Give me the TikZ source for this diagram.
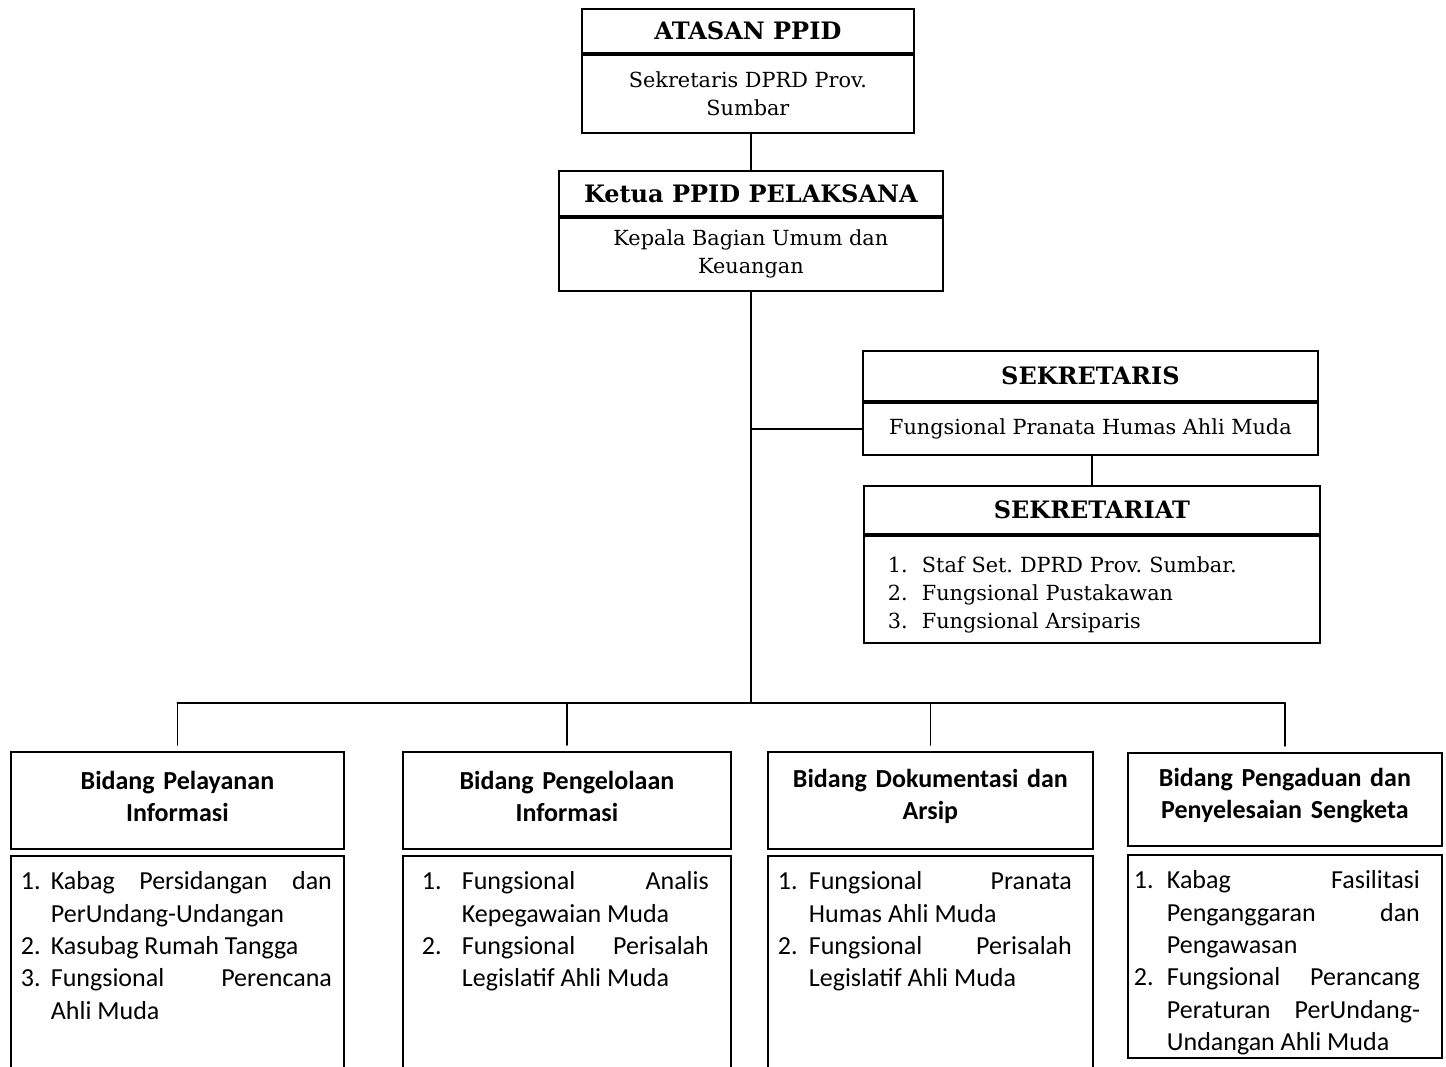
\documentclass[tikz,border=0pt]{standalone}
\usepackage{fontspec}
\setmainfont{DejaVu Serif}
\newfontfamily\calibri{Carlito}
\usetikzlibrary{positioning}
\frenchspacing

% numbered item with hanging indent
\newcommand{\butir}[3]{\par\hangindent=#1\hangafter=1\noindent\makebox[#1][l]{#2}#3\par}
% top aligned text inside a bidang box: height, width, right skip, items
\newcommand{\isibidang}[4]{\parbox[t][#1][t]{#2}{\hbadness=10000\rightskip=#3\vspace{8pt}#4}}

\begin{document}
\begin{tikzpicture}[x=0.5pt, y=-0.5pt, line width=0.9pt, line cap=round,
    judul/.style={draw, inner sep=0pt, font=\fontsize{12}{14}\selectfont\bfseries},
    isi/.style={draw, inner sep=0pt, align=center, font=\fontsize{10.4}{14}\selectfont},
    bidang/.style={draw, inner sep=0pt, anchor=north west, minimum height=48.5pt,
      text width=150pt, align=center, execute at end node={\endgraf\vspace{4pt}},
      font=\calibri\fontsize{13}{16.2}\selectfont\bfseries},
    rincian/.style={draw, inner sep=0pt, font=\calibri\fontsize{13}{16.2}\selectfont}]
  \useasboundingbox (0,0) rectangle (1446,1066);
  \clip (0,0) rectangle (1446,1066);

  % Atasan dan ketua
  \node[judul, anchor=north west, minimum width=166pt, minimum height=22pt] (atasan) at (581,8) {ATASAN PPID};
  \node[isi, below=0pt of atasan, minimum width=166pt, minimum height=39pt] (atasanIsi) {Sekretaris DPRD Prov.\\Sumbar};
  \node[judul, anchor=north west, minimum width=192pt, minimum height=22.5pt] (ketua) at (558,170) {Ketua PPID PELAKSANA};
  \node[isi, below=0pt of ketua, minimum width=192pt, minimum height=36.5pt] (ketuaIsi) {Kepala Bagian Umum dan\\Keuangan};

  % Sekretaris dan sekretariat
  \node[judul, anchor=north west, minimum width=227.5pt, minimum height=25pt] (sekretaris) at (862,350) {SEKRETARIS};
  \node[isi, below=0pt of sekretaris, minimum width=227.5pt, minimum height=26pt] (sekretarisIsi) {Fungsional Pranata Humas Ahli Muda};
  \node[judul, anchor=north west, minimum width=228pt, minimum height=24pt] (sekretariat) at (863,485) {SEKRETARIAT};
  \node[isi, below=0pt of sekretariat, minimum width=228pt, minimum height=53.5pt, text width=204pt, align=left] (sekretariatIsi)
    {\butir{17pt}{1.}{Staf Set. DPRD Prov. Sumbar.}\butir{17pt}{2.}{Fungsional Pustakawan}\butir{17pt}{3.}{Fungsional Arsiparis}};

  % Bidang
  \node[bidang, minimum width=166.5pt] (bidang1) at (10,751) {Bidang Pelayanan\\Informasi};
  \node[rincian, below=2.5pt of bidang1, minimum width=166.5pt] (isi1) {\isibidang{123.5pt}{156.5pt}{1pt}{%
    \butir{15pt}{1.}{Kabag Persidangan dan\linebreak PerUndang-Undangan}%
    \butir{15pt}{2.}{Kasubag Rumah Tangga}%
    \butir{15pt}{3.}{Fungsional Perencana\linebreak Ahli Muda}}};

  \node[bidang, minimum width=164pt] (bidang2) at (402,751) {Bidang Pengelolaan\\Informasi};
  \node[rincian, below=2.5pt of bidang2, minimum width=164pt] (isi2) {\isibidang{123.5pt}{145pt}{1.5pt}{%
    \butir{20pt}{1.}{Fungsional Analis\linebreak Kepegawaian Muda}%
    \butir{20pt}{2.}{Fungsional Perisalah\linebreak Legislatif Ahli Muda}}};

  \node[bidang, minimum width=162.5pt] (bidang3) at (767,751) {Bidang Dokumentasi dan\\Arsip};
  \node[rincian, below=2.5pt of bidang3, minimum width=162.5pt] (isi3) {\isibidang{123.5pt}{152.5pt}{5.5pt}{%
    \butir{15.5pt}{1.}{Fungsional Pranata\linebreak Humas Ahli Muda}%
    \butir{15.5pt}{2.}{Fungsional Perisalah\linebreak Legislatif Ahli Muda}}};

  \node[bidang, minimum width=157pt, minimum height=46.5pt] (bidang4) at (1127,752) {Bidang Pengaduan dan\\Penyelesaian Sengketa};
  \node[rincian, below=3.5pt of bidang4, minimum width=157pt] (isi4) {\isibidang{101.5pt}{151pt}{8pt}{%
    \butir{16.5pt}{1.}{Kabag Fasilitasi\linebreak Penganggaran dan\linebreak Pengawasan}%
    \butir{16.5pt}{2.}{Fungsional Perancang\linebreak Peraturan PerUndang-\linebreak Undangan Ahli Muda}}};

  % Garis
  \coordinate (bus) at (750,703);
  \draw (ketua.north |- atasanIsi.south) -- (ketua.north);
  \draw (ketuaIsi.south) -- (ketuaIsi.south |- bus);
  \draw (ketuaIsi.south |- sekretarisIsi.west) -- (sekretarisIsi.west);
  \draw (sekretariat.north |- sekretarisIsi.south) -- (sekretariat.north);
  \draw (bus -| bidang1.north) -- (bus -| bidang4.north);
  \draw[shorten >=3pt] (bus -| bidang1.north) -- (bidang1.north);
  \draw[shorten >=3pt] (bus -| bidang2.north) -- (bidang2.north);
  \draw[shorten >=3pt] (bus -| bidang3.north) -- (bidang3.north);
  \draw[shorten >=3pt] (bus -| bidang4.north) -- (bidang4.north);
\end{tikzpicture}
\end{document}
